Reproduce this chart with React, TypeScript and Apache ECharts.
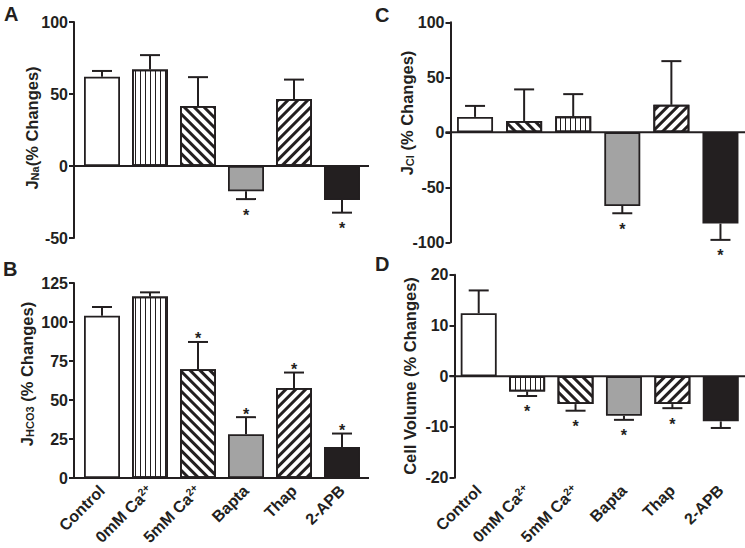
import React, { useEffect, useRef } from "react";
import * as echarts from "echarts";

// ---------- data ----------
const categoryLabels = ["Control", "0mM Ca{sup|2+}", "5mM Ca{sup|2+}", "Bapta", "Thap", "2-APB"];

const jNaMean = [62, 67, 41.7, -17.6, 46.5, -23.6];
const jNaSem = [4, 10, 20, 5.4, 13.5, 8.8];
const jNaSig = [0, 0, 0, 1, 0, 1];

const jHco3Mean = [104, 116.3, 69.7, 28, 57.7, 19.9];
const jHco3Sem = [5.6, 2.7, 17.5, 11, 9.9, 8.6];
const jHco3Sig = [0, 0, 1, 1, 1, 1];

const jClMean = [14, 10.3, 14.5, -67, 25, -83];
const jClSem = [10, 28.7, 20.2, 6.6, 39.7, 14.8];
const jClSig = [0, 0, 0, 1, 0, 1];

const cellVolMean = [12.4, -3, -5.5, -7.8, -5.5, -8.9];
const cellVolSem = [4.5, 0.9, 1.3, 0.8, 0.8, 1.3];
const cellVolSig = [0, 1, 1, 1, 1, 0];

const patternsMain = ["open", "vertical", "back", "gray", "forward", "solid"];
const patternsC = ["open", "back", "vertical", "gray", "forward", "solid"];

const yRangeA = [-50, 100, 50];
const yRangeB = [0, 125, 25];
const yRangeC = [-100, 100, 50];
const yRangeD = [-20, 20, 10];

// ---------- styling ----------
const INK = "#231f20";
const FONT = "'Liberation Sans', Arial, Helvetica, sans-serif";

function patternStyle(p: string): any {
  switch (p) {
    case "gray":
      return { color: "#a3a3a3" };
    case "solid":
      return { color: INK };
    case "vertical":
      return {
        color: "#ffffff",
        decal: { symbol: "rect", symbolSize: 1, dashArrayX: [1, 4], dashArrayY: [1, 0], color: INK },
      };
    case "back":
      return {
        color: "#ffffff",
        decal: { symbol: "rect", symbolSize: 1, dashArrayX: [1, 0], dashArrayY: [3, 4], rotation: Math.PI / 4, color: INK },
      };
    case "forward":
      return {
        color: "#ffffff",
        decal: { symbol: "rect", symbolSize: 1, dashArrayX: [1, 0], dashArrayY: [3, 4], rotation: -Math.PI / 4, color: INK },
      };
    default:
      return { color: "#ffffff" };
  }
}

type Panel = {
  mean: number[];
  sem: number[];
  sig: number[];
  patterns: string[];
  range: number[];
  labels: boolean;
  grid: { left: number; top: number; width: number; height: number };
  offset: number;
};

const panels: Panel[] = [
  { mean: jNaMean, sem: jNaSem, sig: jNaSig, patterns: patternsMain, range: yRangeA, labels: false,
    grid: { left: 78, top: 22, width: 288, height: 216 }, offset: 4 },
  { mean: jHco3Mean, sem: jHco3Sem, sig: jHco3Sig, patterns: patternsMain, range: yRangeB, labels: true,
    grid: { left: 78, top: 283, width: 288, height: 195 }, offset: 4 },
  { mean: jClMean, sem: jClSem, sig: jClSig, patterns: patternsC, range: yRangeC, labels: false,
    grid: { left: 450.5, top: 22.3, width: 296, height: 220 }, offset: 0 },
  { mean: cellVolMean, sem: cellVolSem, sig: cellVolSig, patterns: patternsMain, range: yRangeD, labels: true,
    grid: { left: 454.5, top: 274.7, width: 291, height: 203 }, offset: 0 },
];

function buildOption() {
  const grid: any[] = [];
  const xAxis: any[] = [];
  const yAxis: any[] = [];
  const series: any[] = [];

  panels.forEach((p, k) => {
    grid.push({ ...p.grid, containLabel: false });
    xAxis.push({
      type: "category",
      gridIndex: k,
      data: categoryLabels,
      axisLine: { show: false },
      axisTick: { show: false },
      axisLabel: {
        show: p.labels,
        interval: 0,
        rotate: 45,
        margin: 10,
        color: INK,
        fontSize: 16,
        fontWeight: "bold",
        fontFamily: FONT,
        rich: {
          sup: { fontSize: 10.5, fontWeight: "bold", fontFamily: FONT, color: INK, verticalAlign: "top", padding: [0, 0, 6, 0] },
        },
      },
      splitLine: { show: false },
    });
    yAxis.push({
      type: "value",
      gridIndex: k,
      min: p.range[0],
      max: p.range[1],
      interval: p.range[2],
      offset: p.offset,
      axisLine: { show: true, onZero: false, lineStyle: { color: INK, width: 2 } },
      axisTick: { show: true, length: 5, lineStyle: { color: INK, width: 2 } },
      axisLabel: { color: INK, fontSize: 16, fontWeight: "bold", fontFamily: FONT, margin: 6 },
      splitLine: { show: false },
    });

    series.push({
      type: "bar",
      xAxisIndex: k,
      yAxisIndex: k,
      barWidth: 36,
      z: 2,
      data: p.mean.map((v, i) => ({
        value: v,
        itemStyle: { ...patternStyle(p.patterns[i]), borderColor: INK, borderWidth: 1.8 },
      })),
    });

    series.push({
      type: "custom",
      xAxisIndex: k,
      yAxisIndex: k,
      z: 3,
      silent: true,
      data: p.mean.map((v, i) => [i, v, p.sem[i], p.sig[i]]),
      encode: { x: 0, y: 1 },
      renderItem: (params: any, api: any) => {
        const i = api.value(0);
        const m = api.value(1);
        const e = api.value(2);
        const s = api.value(3);
        const dir = m >= 0 ? 1 : -1;
        const base = api.coord([i, m]);
        const tip = api.coord([i, m + dir * e]);
        const children: any[] = [
          { type: "line", shape: { x1: base[0], y1: base[1], x2: tip[0], y2: tip[1] }, style: { stroke: INK, lineWidth: 2 } },
          { type: "line", shape: { x1: tip[0] - 10, y1: tip[1], x2: tip[0] + 10, y2: tip[1] }, style: { stroke: INK, lineWidth: 2 } },
        ];
        if (s) {
          children.push({
            type: "text",
            x: tip[0],
            y: dir > 0 ? tip[1] - 3 : tip[1] + 16,
            style: { text: "*", fill: INK, fontSize: 16, fontWeight: "bold", fontFamily: FONT, align: "center", verticalAlign: "middle" },
          });
        }
        return { type: "group", children };
      },
    });

    series.push({
      type: "custom",
      xAxisIndex: k,
      yAxisIndex: k,
      z: 5,
      silent: true,
      data: [[0, 0]],
      encode: { x: 0, y: 1 },
      renderItem: (params: any, api: any) => {
        const cs = params.coordSys;
        const y = api.coord([0, 0])[1];
        return {
          type: "line",
          shape: { x1: cs.x - p.offset - 5, y1: y, x2: cs.x + cs.width + 3, y2: y },
          style: { stroke: INK, lineWidth: 2 },
        };
      },
    });
  });

  const nameStyle = (text: string) => ({
    text,
    fill: INK,
    fontSize: 16.5,
    fontWeight: "bold",
    fontFamily: FONT,
    align: "center",
    verticalAlign: "middle",
    rich: {
      sub: { fontSize: 11, fontWeight: "bold", fontFamily: FONT, fill: INK, verticalAlign: "bottom", padding: [6, 0, 0, 0] },
    },
  });
  const letter = (text: string, x: number, y: number) => ({
    type: "text",
    x,
    y,
    style: { text, fill: INK, fontSize: 20, fontWeight: "bold", fontFamily: FONT, align: "left", verticalAlign: "middle" },
  });

  const graphic = [
    { type: "text", x: 32, y: 128, rotation: Math.PI / 2, style: nameStyle("J{sub|Na}(% Changes)") },
    { type: "text", x: 27, y: 374, rotation: Math.PI / 2, style: nameStyle("J{sub|HCO3} (% Changes)") },
    { type: "text", x: 407, y: 113, rotation: Math.PI / 2, style: nameStyle("J{sub|Cl} (% Changes)") },
    { type: "text", x: 410, y: 376, rotation: Math.PI / 2, style: nameStyle("Cell Volume (% Changes)") },
    letter("A", 4, 14),
    letter("B", 3, 269),
    letter("C", 375, 15),
    letter("D", 375, 264),
  ];

  return {
    animation: false,
    backgroundColor: "#ffffff",
    grid,
    xAxis,
    yAxis,
    series,
    graphic,
  };
}

export default function App() {
  const ref = useRef<HTMLDivElement>(null);
  useEffect(() => {
    if (!ref.current) return;
    const chart = echarts.init(ref.current, undefined, { renderer: "svg" });
    chart.setOption(buildOption() as any);
    return () => chart.dispose();
  }, []);
  return <div ref={ref} style={{ position: "fixed", left: 0, top: 0, width: 745, height: 548 }} />;
}
